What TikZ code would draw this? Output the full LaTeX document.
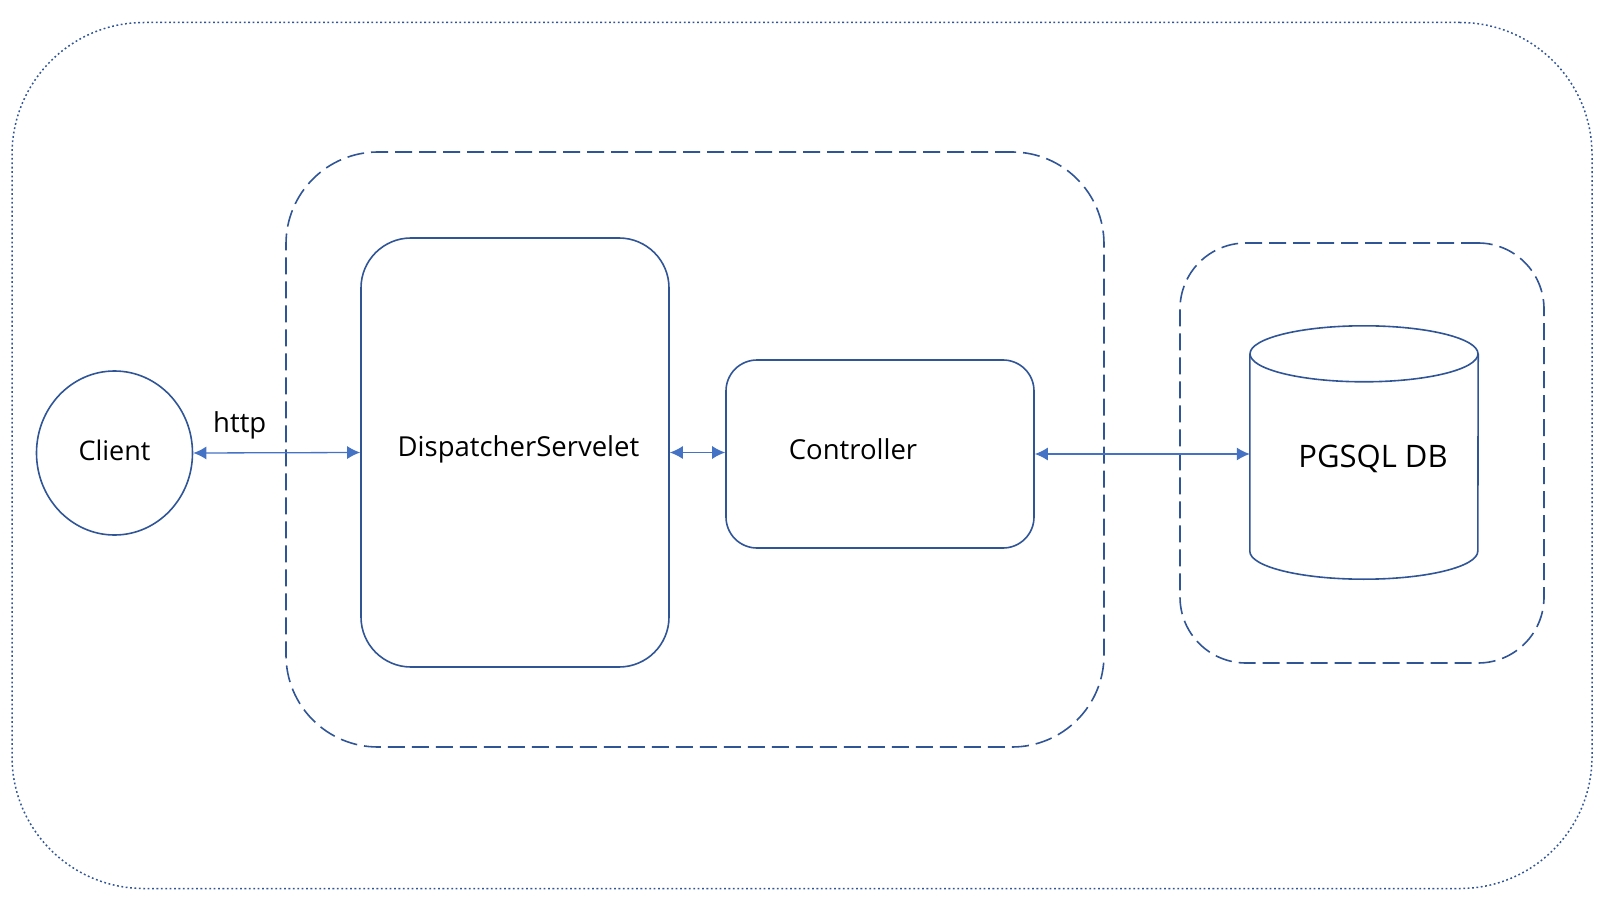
\documentclass[tikz,border=0pt]{standalone}
\usepackage{fontspec}
\setmainfont{Open Sans}
\usetikzlibrary{arrows.meta, positioning, shapes.geometric}
\definecolor{cLine}{HTML}{2F5597}
\definecolor{cArrow}{HTML}{4472C4}
\tikzset{
  box/.style={draw=cLine, line width=1.6pt, rectangle},
  groupbox/.style={draw=cLine, line width=1.6pt, rectangle, dash pattern=on 17pt off 7pt},
  outerbox/.style={draw=cLine, line width=1.5pt, rectangle, dash pattern=on 1.8pt off 2.6pt},
  clientnode/.style={draw=cLine, line width=1.6pt, ellipse, minimum width=156pt, minimum height=164pt},
  dbline/.style={draw=cLine, line width=1.6pt},
  txt/.style={font=\fontsize{27.5}{32}\selectfont, inner sep=0pt},
  link/.style={{Latex[length=13pt, width=13pt]}-{Latex[length=13pt, width=13pt]}, draw=cArrow, line width=1.3pt},
}
\begin{document}
\begin{tikzpicture}[x=1pt, y=-1pt]
  \useasboundingbox (0,0) rectangle (1604,912);

  % outer frame and the two dashed groups
  \node[outerbox, rounded corners=132pt, minimum width=1580pt, minimum height=866pt] (frame) at (802,455.5) {};
  \node[groupbox, rounded corners=92pt, minimum width=818pt, minimum height=595pt] (app) at (695,449.5) {};
  \node[groupbox, rounded corners=66pt, minimum width=364pt, minimum height=420pt] (store) at (1362,453) {};

  % main nodes
  \node[clientnode] (client) at (114.5,453) {};
  \node[txt, font=\fontsize{27}{32}\selectfont] (clientlabel) at (114.5,450) {Client};
  \node[box, rounded corners=50pt, minimum width=308pt, minimum height=429pt] (disp) at (515,452.5) {};
  \node[txt] (displabel) at (518.5,449) {DispatcherServelet};
  \node[box, rounded corners=31pt, minimum width=308pt, minimum height=188pt] (ctrl) at (880,454) {};
  \node[txt] (ctrllabel) at (853,449) {Controller};

  % database cylinder
  \node[minimum width=228pt, minimum height=253pt, inner sep=0pt] (db) at (1364,452.5) {};
  \draw[dbline] ([yshift=-28pt]db.north) ellipse [x radius=114pt, y radius=28pt];
  \draw[dbline] ([yshift=-28pt]db.north west) -- ([yshift=28pt]db.south west)
    arc [start angle=180, end angle=360, x radius=114pt, y radius=28pt] -- ([yshift=-28pt]db.north east);
  \node[txt, font=\fontsize{31}{36}\selectfont] (dblabel) at (1373,459) {PGSQL DB};

  % connectors
  \draw[link] (client.east) -- (disp.west) node[txt, midway, above=13pt, xshift=-37pt] (http) {http};
  \draw[link] (disp.east) -- (disp.east -| ctrl.west);
  \draw[link] (ctrl.east) -- (ctrl.east -| db.west);

\end{tikzpicture}
\end{document}
